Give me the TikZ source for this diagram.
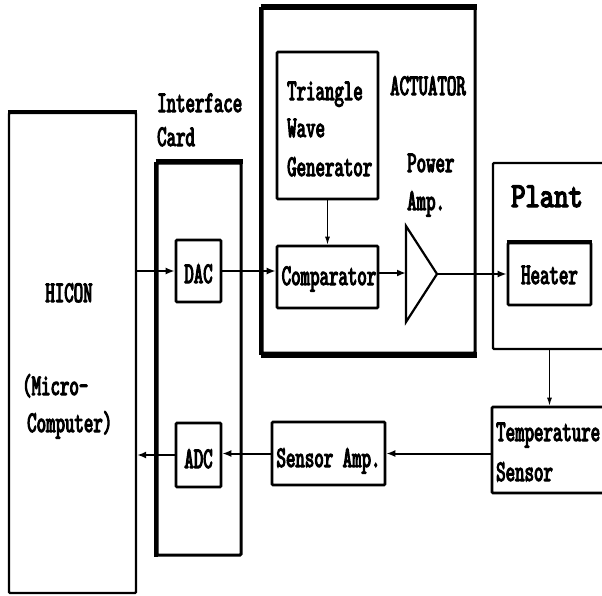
\documentclass[tikz,border=0pt]{standalone}
\usepackage{fontspec}
\usetikzlibrary{arrows.meta}
\newfontfamily\lblfont{lmmono10-regular}[Extension=.otf, FakeStretch=0.6, FakeBold=3.5]
\newfontfamily\plantfont{lmmono10-regular}[Extension=.otf, FakeStretch=0.78, FakeBold=4]
\begin{document}
\begin{tikzpicture}[x=1pt,y=-1pt,
  box/.style={draw, line width=2.2pt, inner sep=0pt, rounded corners=1pt},
  lbl/.style={inner sep=0pt, font=\lblfont\fontsize{30}{36}\selectfont},
  arr/.style={line width=2pt, -{Latex[length=9pt,width=7pt]}},
  tarr/.style={line width=1.2pt, -{Latex[length=8pt,width=5pt]}}]
\clip (0,0) rectangle (602,595);
\fill[white] (0,0) rectangle (602,595);
% boxes
\node[box, minimum width=127pt, minimum height=480pt] (hicon) at (72.5,353) {};
\draw[line width=3pt] (hicon.north west) -- (hicon.north east);
\node[box, line width=3pt, minimum width=84pt, minimum height=392pt] (card) at (199,359) {};
\draw[line width=5pt] (card.north west) -- (card.north east);
\draw[line width=4pt] (card.north west) -- (card.south west);
\node[box, line width=3pt, minimum width=213pt, minimum height=345pt] (act) at (368.5,180.5) {};
\draw[line width=6pt] (act.north west) -- (act.north east);
\draw[line width=6pt] (act.south west) -- (act.south east);
\draw[line width=4pt] (act.north west) -- (act.south west);
\node[box, line width=2.6pt, minimum width=101pt, minimum height=147pt] (twg) at (327.5,125.5) {};
\node[box, line width=2.6pt, minimum width=101pt, minimum height=62pt] (cmp) at (327.5,277) {};
\node[box, line width=2.6pt, minimum width=45pt, minimum height=62pt] (dac) at (198.5,271) {};
\node[box, line width=2.6pt, minimum width=45pt, minimum height=64pt] (adc) at (198.5,455) {};
\node[box, minimum width=127pt, minimum height=186pt] (plant) at (556.5,256) {};
\node[box, line width=2.6pt, minimum width=83pt, minimum height=62pt] (heater) at (549.5,274) {};
\draw[line width=4pt] (heater.north west) -- (heater.north east);
\node[box, line width=2.6pt, minimum width=128pt, minimum height=86pt] (ts) at (556,450) {};
\node[box, line width=2.6pt, minimum width=113pt, minimum height=63pt] (samp) at (328.5,453.5) {};
% power amplifier triangle
\coordinate (ampA) at (406,226);
\coordinate (ampB) at (406,322);
\coordinate (ampin) at (406,273);
\coordinate (ampout) at (437,274);
\draw[line width=2.2pt, line join=miter] (ampA) -- (ampout) -- (ampB) -- cycle;
% texts
\node[lbl, anchor=base west] (t1) at (157,112) {Interface};
\node[lbl, anchor=base west] (t2) at (157,146) {Card};
\node[lbl, anchor=base] (t3) at (69,302) {HICON};
\node[lbl, anchor=base west] (t4) at (22,395) {(Micro-};
\node[lbl, anchor=base west] (t5) at (27,432) {Computer)};
\node[lbl, anchor=base west] (t6) at (287,100) {Triangle};
\node[lbl, anchor=base west] (t7) at (287,137) {Wave};
\node[lbl, anchor=base west] (t8) at (287,176) {Generator};
\node[lbl, anchor=base west] (t9) at (390,95) {ACTUATOR};
\node[lbl, anchor=base west] (t10) at (407,172) {Power};
\node[lbl, anchor=base west] (t11) at (407,210) {Amp.};
\node[inner sep=0pt, anchor=base west, font=\plantfont\fontsize{35}{40}\selectfont] (t12) at (511,207) {Plant};
\node[lbl, anchor=base] (t13) at (549.5,284) {Heater};
\node[lbl, anchor=base] (t14) at (329,285) {Comparator};
\node[lbl, anchor=base] (t15) at (198.5,283) {DAC};
\node[lbl, anchor=base] (t16) at (198.5,468) {ADC};
\node[lbl, anchor=base west] (t17) at (496,441) {Temperature};
\node[lbl, anchor=base west] (t18) at (496,481) {Sensor};
\node[lbl, anchor=base] (t19) at (328.5,467) {Sensor Amp.};
% connectors
\draw[arr] (hicon.east |- dac) -- (dac.west);
\draw[arr] (dac.east) -- (dac.east -| cmp.west);
\draw[tarr] (twg.south) -- (cmp.north);
\draw[arr] (cmp.east |- ampin) -- (ampin);
\draw[arr] (ampout) -- (ampout -| heater.west);
\draw[tarr] (heater.center |- plant.south) -- (heater.center |- ts.north);
\draw[arr] (ts.west |- samp) -- (samp.east);
\draw[arr] (samp.west) -- (samp.west -| adc.east);
\draw[arr] (adc.west) -- (adc.west -| hicon.east);
\end{tikzpicture}
\end{document}
